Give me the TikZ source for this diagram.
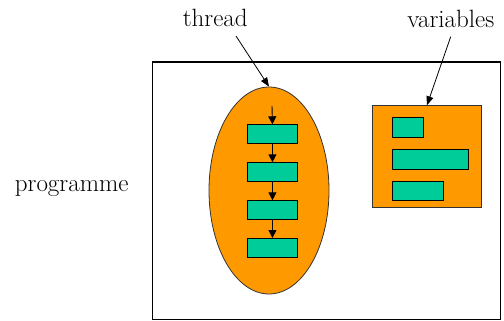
\documentclass[tikz,border=0pt]{standalone}
\usetikzlibrary{arrows.meta,shapes.geometric}
\definecolor{procorange}{RGB}{255,153,0}
\definecolor{stepgreen}{RGB}{0,204,153}
\begin{document}
\begin{tikzpicture}[x=1pt,y=-1pt,
  label text/.style={font=\rmfamily\fontsize{25}{30}\selectfont, anchor=base, inner sep=0pt},
  greenbox/.style={draw=black, fill=stepgreen, line width=0.9pt, rectangle, inner sep=0pt, anchor=north west},
  flow/.style={draw=black, line width=0.9pt, -{Triangle[length=8pt,width=8pt]}},
  pointer/.style={draw=black, line width=0.8pt, -{Triangle[length=9pt,width=7pt]}}]
\useasboundingbox (0,0) rectangle (504,321);
% program frame
\node[draw=black, line width=1.4pt, rectangle, inner sep=0pt, minimum width=348pt, minimum height=257pt, anchor=north west] (frame) at (151.5,61.5) {};
% thread
\node[ellipse, draw=black!80, fill=procorange, line width=0.8pt, minimum width=120pt, minimum height=207pt, inner sep=0pt] (thr) at (269,190.5) {};
\coordinate (start) at (272,106);
\node[greenbox, minimum width=50.6pt, minimum height=19pt] (s1) at (246.7,124.3) {};
\node[greenbox, minimum width=50.6pt, minimum height=19pt] (s2) at (246.7,162.3) {};
\node[greenbox, minimum width=50.6pt, minimum height=19pt] (s3) at (246.7,200.3) {};
\node[greenbox, minimum width=50.6pt, minimum height=19pt] (s4) at (246.7,238) {};
\draw[flow] (start) -- (s1.north);
\draw[flow] (s1.south) -- (s2.north);
\draw[flow] (s2.south) -- (s3.north);
\draw[flow] (s3.south) -- (s4.north);
% variables
\node[draw=black!80, fill=procorange, line width=0.9pt, rectangle, inner sep=0pt, minimum width=108.4pt, minimum height=102pt, anchor=north west] (vars) at (372.3,105.3) {};
\node[greenbox, minimum width=31.6pt, minimum height=19.7pt] (v1) at (391.7,117.3) {};
\node[greenbox, minimum width=76pt, minimum height=19.4pt] (v2) at (391.7,149.3) {};
\node[greenbox, minimum width=51pt, minimum height=19.3pt] (v3) at (391.7,181) {};
% labels
\node[label text] (tlab) at (215.3,26.7) {thread};
\node[label text] (vlab) at (450.8,27.3) {variables};
\node[label text] (plab) at (71.7,191) {programme};
\coordinate (tfrom) at (236,36);
\coordinate (vfrom) at (450.7,36.7);
\draw[pointer] (tfrom) -- (thr.north);
\draw[pointer] (vfrom) -- (vars.north);
\end{tikzpicture}
\end{document}
